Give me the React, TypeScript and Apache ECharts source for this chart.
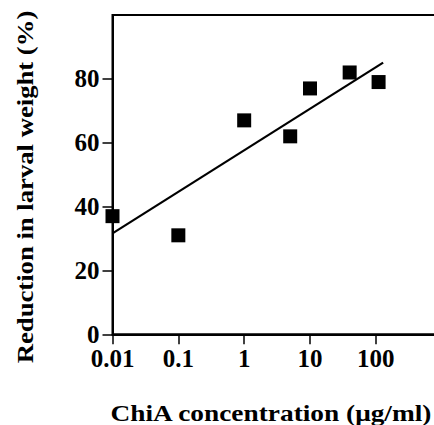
import React, { useEffect, useRef } from "react";
import * as echarts from "echarts";

const concentrations = [0.01, 0.1, 1, 5, 10, 40, 110];
const reductions = [37, 31, 67, 62, 77, 82, 79];
const fitLineX = [0.01, 129];
const fitLineY = [31.6, 85.1];
const xTickLabels = ["0.01", "0.1", "1", "10", "100"];
const yTickValues = [0, 20, 40, 60, 80];
const xTitle = "ChiA concentration (μg/ml)";
const yTitle = "Reduction in larval weight (%)";

const FONT = "'Liberation Serif', 'Times New Roman', serif";

export default function App() {
  const ref = useRef<HTMLDivElement>(null);
  useEffect(() => {
    if (!ref.current) return;
    const chart = echarts.init(ref.current, undefined, { renderer: "svg" });
    chart.setOption({
      animation: false,
      backgroundColor: "#fff",
      grid: {
        left: 112.5,
        right: 8.3,
        top: 15,
        bottom: 90.7,
        show: true,
        borderColor: "#000",
        borderWidth: 2,
      },
      xAxis: {
        type: "log",
        logBase: 10,
        min: 0.01,
        max: 1000,
        axisLine: { show: true, onZero: false, lineStyle: { color: "#000", width: 2 } },
        axisTick: { show: true, inside: false, length: 10, lineStyle: { color: "#000", width: 1.5 } },
        minorTick: { show: false },
        splitLine: { show: false },
        axisLabel: {
          margin: 12,
          color: "#000",
          fontFamily: FONT,
          fontWeight: "bold",
          fontSize: 25,
          formatter: (v: number) => {
            const i = Math.round(Math.log10(v)) + 2;
            return xTickLabels[i] ?? "";
          },
        },
      },
      yAxis: {
        type: "value",
        min: 0,
        max: 100,
        interval: 20,
        axisLine: { show: true, lineStyle: { color: "#000", width: 2 } },
        axisTick: {
          show: true,
          length: 10,
          customValues: yTickValues,
          lineStyle: { color: "#000", width: 1.5 },
        },
        splitLine: { show: false },
        axisLabel: {
          margin: 13,
          color: "#000",
          fontFamily: FONT,
          fontWeight: "bold",
          fontSize: 25,
          customValues: yTickValues,
        },
      },
      graphic: [
        {
          type: "text",
          x: 271,
          y: 413,
          scaleX: 1.19,
          style: {
            text: xTitle,
            font: `bold 23px ${FONT}`,
            fill: "#000",
            textAlign: "center",
            textVerticalAlign: "middle",
          },
        },
        {
          type: "text",
          x: 25,
          y: 187,
          rotation: Math.PI / 2,
          scaleX: 1.16,
          style: {
            text: yTitle,
            font: `bold 23px ${FONT}`,
            fill: "#000",
            textAlign: "center",
            textVerticalAlign: "middle",
          },
        },
      ],
      series: [
        {
          type: "line",
          data: fitLineX.map((x, i) => [x, fitLineY[i]]),
          symbol: "none",
          lineStyle: { color: "#000", width: 2.2 },
          z: 2,
        },
        {
          type: "scatter",
          data: concentrations.map((x, i) => [x, reductions[i]]),
          symbol: "rect",
          symbolSize: 14,
          itemStyle: { color: "#000", opacity: 1 },
          z: 3,
        },
      ],
    });
    return () => chart.dispose();
  }, []);
  return (
    <div
      style={{
        position: "absolute",
        left: 0,
        top: 0,
        width: 434,
        height: 425,
        overflow: "hidden",
        background: "#fff",
      }}
    >
      <div ref={ref} style={{ width: 450, height: 425 }} />
    </div>
  );
}
